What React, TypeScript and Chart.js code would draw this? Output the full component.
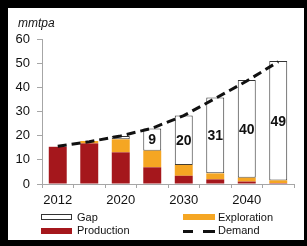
import React, { useEffect, useRef } from "react";
import { Chart, registerables } from "chart.js";

Chart.register(...registerables);

const years = ["2012", "2015", "2020", "2025", "2030", "2035", "2040", "2045"];
const production = [15.4, 16.8, 13.1, 6.9, 3.4, 1.9, 1.0, 0.4];
const exploration = [0, 1.0, 5.4, 6.9, 4.5, 2.5, 1.6, 1.1];
const gap = [0, 0, 1.4, 9.2, 20.4, 31.4, 40.4, 49.4];
const demand = [15.6, 17.5, 19.9, 23.1, 28.3, 35.4, 42.6, 50.6];
const yTicks = [0, 10, 20, 30, 40, 50, 60];

const FONT = "'Liberation Sans', Arial, sans-serif";
const RED = "#A5171C";
const ORANGE = "#F5A623";
const AXIS = "#A6A6A6";

const gapLabelPlugin = {
  id: "gapLabels",
  afterDatasetsDraw(chart: any) {
    const meta = chart.getDatasetMeta(2);
    const ctx = chart.ctx;
    ctx.save();
    ctx.font = `bold 14px ${FONT}`;
    ctx.fillStyle = "#111";
    ctx.textAlign = "center";
    ctx.textBaseline = "middle";
    meta.data.forEach((el: any, i: number) => {
      const v = gap[i];
      if (v >= 5) {
        ctx.fillText(String(Math.round(v)), el.x, (el.y + el.base) / 2 + 1);
      }
    });
    ctx.restore();
  },
};

export default function App() {
  const ref = useRef<HTMLCanvasElement>(null);
  useEffect(() => {
    document.body.style.margin = "0";
    const chart = new Chart(ref.current as HTMLCanvasElement, {
      type: "bar",
      data: {
        labels: years,
        datasets: [
          {
            type: "bar",
            label: "Production",
            data: production,
            backgroundColor: RED,
            borderWidth: 0,
            stack: "s",
            order: 1,
          },
          {
            type: "bar",
            label: "Exploration",
            data: exploration,
            backgroundColor: ORANGE,
            borderWidth: 0,
            stack: "s",
            order: 1,
          },
          {
            type: "bar",
            label: "Gap",
            data: gap,
            backgroundColor: "#ffffff",
            borderColor: "#333333",
            borderWidth: 1,
            borderSkipped: false,
            stack: "s",
            order: 1,
          } as any,
          {
            type: "line",
            label: "Demand",
            data: demand,
            borderColor: "#111111",
            borderWidth: 3,
            borderDash: [9, 5],
            pointRadius: 0,
            tension: 0,
            fill: false,
            stack: "demand",
            order: 0,
          } as any,
        ],
      },
      options: {
        animation: false,
        responsive: false,
        maintainAspectRatio: false,
        datasets: {
          bar: { categoryPercentage: 1, barPercentage: 0.57 },
        } as any,
        layout: { padding: { left: 0, right: 10, top: 31, bottom: 26 } },
        plugins: {
          legend: { display: false },
          tooltip: { enabled: false },
        },
        scales: {
          x: {
            stacked: true,
            grid: {
              display: true,
              drawOnChartArea: false,
              drawTicks: true,
              tickLength: 4,
              color: AXIS,
              offset: true,
            },
            border: { display: true, color: AXIS, width: 1 },
            ticks: {
              autoSkip: false,
              maxRotation: 0,
              padding: 5,
              color: "#111",
              font: { family: FONT, size: 13 },
              callback: (_v: any, i: number) => (i % 2 === 0 ? years[i] : ""),
            },
            afterFit: (s: any) => {
              s.height = 30;
            },
          },
          y: {
            stacked: true,
            min: 0,
            max: 60,
            afterBuildTicks: (s: any) => {
              s.ticks = yTicks.map((v) => ({ value: v }));
            },
            grid: {
              display: true,
              drawOnChartArea: false,
              drawTicks: true,
              tickLength: 5,
              color: AXIS,
            },
            border: { display: true, color: AXIS, width: 1 },
            ticks: {
              padding: 7,
              color: "#111",
              font: { family: FONT, size: 13 },
            },
            afterFit: (s: any) => {
              s.width = 34;
            },
          },
        },
      },
      plugins: [gapLabelPlugin],
    });
    return () => chart.destroy();
  }, []);

  const txt = (left: number, center: number, s: string): React.ReactElement => (
    <div
      style={{
        position: "absolute",
        left,
        top: center - 7,
        lineHeight: "14px",
        fontSize: 11,
        fontFamily: FONT,
        color: "#111",
        whiteSpace: "nowrap",
      }}
    >
      {s}
    </div>
  );

  return (
    <div
      style={{
        position: "fixed",
        left: 0,
        top: 0,
        width: 307,
        height: 246,
        background: "#000",
      }}
    >
      <div
        style={{
          position: "absolute",
          left: 8,
          top: 8,
          width: 296,
          height: 232,
          background: "#fff",
        }}
      >
        <canvas ref={ref} width={296} height={232} style={{ display: "block" }} />
        <div
          style={{
            position: "absolute",
            left: 10,
            top: 8,
            lineHeight: "14px",
            fontSize: 12,
            fontStyle: "italic",
            fontFamily: FONT,
            color: "#111",
          }}
        >
          mmtpa
        </div>
        <div
          style={{
            position: "absolute",
            left: 33,
            top: 206,
            width: 29,
            height: 4,
            border: "1px solid #333",
            background: "#fff",
          }}
        />
        {txt(69, 209, "Gap")}
        <div
          style={{
            position: "absolute",
            left: 33,
            top: 220,
            width: 31,
            height: 6,
            background: RED,
          }}
        />
        {txt(69, 222, "Production")}
        <div
          style={{
            position: "absolute",
            left: 175,
            top: 206,
            width: 32,
            height: 6,
            background: ORANGE,
          }}
        />
        {txt(210, 209, "Exploration")}
        <div
          style={{
            position: "absolute",
            left: 175,
            top: 222,
            width: 10,
            height: 3,
            background: "#111",
          }}
        />
        <div
          style={{
            position: "absolute",
            left: 195,
            top: 222,
            width: 12,
            height: 3,
            background: "#111",
          }}
        />
        {txt(210, 222, "Demand")}
      </div>
    </div>
  );
}
